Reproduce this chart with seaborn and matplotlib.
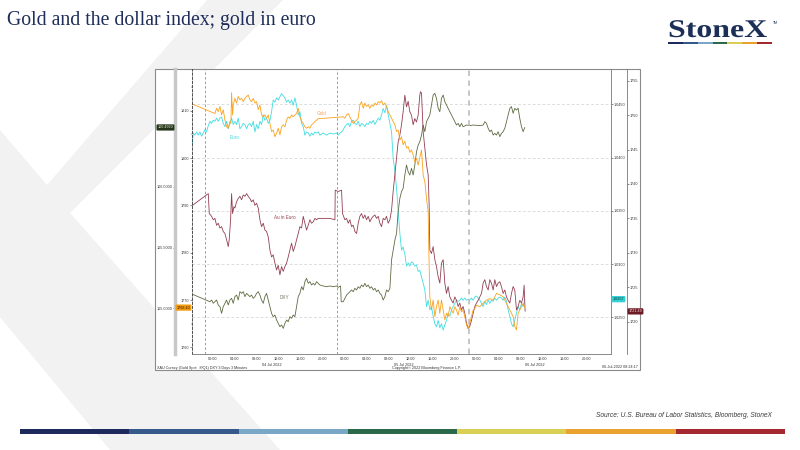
import matplotlib
matplotlib.use("Agg")
import matplotlib.pyplot as plt
import matplotlib.transforms as mtransforms
from matplotlib.patches import Polygon, Rectangle, PathPatch
from matplotlib.textpath import TextPath
from matplotlib.font_manager import FontProperties
from matplotlib.ticker import FixedLocator, MultipleLocator, FormatStrFormatter
import seaborn as sns

# hours counted from 04-Jul-2022 00:00
gold_hours = [-3.75, 0.37, 0.67, 0.97, 1.28, 1.58, 1.88, 2.19, 2.49, 2.79, 3.10, 3.28, 3.40, 3.58, 3.70,
              4.00, 4.30, 4.61, 4.91, 5.22, 5.52, 5.82, 6.13, 6.43, 6.73, 7.03, 7.34, 7.64, 7.94, 8.25,
              8.55, 8.85, 9.16, 9.46, 9.76, 10.07, 10.37, 10.67, 10.97, 11.28, 11.58, 11.88, 12.19, 12.49,
              12.79, 13.10, 13.40, 13.70, 14.00, 14.31, 14.61, 14.91, 15.22, 15.52, 15.82, 16.13, 16.43,
              16.73, 17.03, 17.34, 17.64, 17.94, 18.25, 18.55, 18.85, 19.16, 23.70, 24.00, 24.30, 24.61,
              24.91, 25.22, 25.52, 25.82, 26.13, 26.43, 26.73, 27.03, 27.34, 27.64, 27.94, 28.25, 28.55,
              28.85, 29.16, 29.46, 29.76, 30.07, 30.37, 30.67, 30.97, 31.28, 31.58, 31.88, 32.19, 33.09,
              33.39, 33.69, 34.00, 34.30, 34.60, 34.91, 35.21, 35.51, 35.81, 36.12, 36.42, 36.72, 37.03,
              37.33, 37.63, 37.94, 38.24, 38.54, 38.85, 39.15, 39.27, 39.45, 39.75, 40.06, 40.36, 40.66,
              40.97, 41.27, 41.57, 41.88, 42.18, 42.48, 42.78, 43.09, 43.39, 43.69, 44.00, 44.30, 44.60,
              44.90, 45.21, 45.51, 45.81, 46.12, 46.42, 46.72, 47.03, 47.33, 47.63, 47.94, 48.54, 49.15,
              49.75, 50.36, 50.97, 51.57, 52.18, 52.78, 53.39, 54.00, 54.60, 54.90, 55.21, 55.51, 55.81,
              56.12, 56.42, 56.72]
gold_usd = [1811.4, 1809.4, 1810.5, 1809.8, 1810.9, 1809.1, 1810.2, 1808.0, 1806.6, 1806.3, 1807.7, 1807.3,
            1813.8, 1809.1, 1811.2, 1812.6, 1811.6, 1813.0, 1812.3, 1812.6, 1811.9, 1812.6, 1813.0, 1813.3,
            1812.3, 1811.9, 1812.6, 1811.6, 1811.9, 1810.2, 1811.2, 1809.1, 1808.7, 1809.1, 1808.4, 1809.1,
            1807.3, 1805.6, 1805.9, 1804.5, 1805.2, 1806.3, 1804.9, 1806.6, 1807.0, 1806.6, 1808.0, 1808.7,
            1808.4, 1809.1, 1808.7, 1809.1, 1809.4, 1810.5, 1808.7, 1807.7, 1807.3, 1806.6, 1806.3, 1806.6,
            1806.3, 1807.0, 1807.3, 1807.7, 1808.0, 1808.3, 1808.7, 1808.4, 1809.1, 1809.4, 1808.7, 1808.0,
            1807.3, 1807.7, 1808.0, 1808.4, 1811.2, 1811.9, 1810.5, 1811.6, 1810.9, 1811.2, 1810.5, 1811.2,
            1810.9, 1811.6, 1811.2, 1811.9, 1811.6, 1812.1, 1811.2, 1811.6, 1810.9, 1809.8, 1809.1, 1807.0,
            1805.6, 1805.9, 1803.8, 1804.5, 1802.8, 1803.5, 1802.1, 1802.4, 1801.2, 1801.7, 1800.6, 1799.2,
            1799.9, 1798.5, 1800.1, 1801.7, 1796.4, 1795.0, 1791.5, 1788.7, 1780.6, 1770.7, 1767.9, 1770.0,
            1766.5, 1768.6, 1770.0, 1767.2, 1770.0, 1767.9, 1765.8, 1767.2, 1766.5, 1768.6, 1767.9, 1767.2,
            1768.6, 1767.9, 1766.8, 1768.6, 1767.5, 1767.9, 1766.5, 1764.7, 1764.0, 1765.1, 1766.5, 1767.9,
            1768.2, 1768.9, 1768.6, 1769.3, 1770.0, 1770.3, 1770.0, 1771.4, 1771.1, 1770.7, 1769.3, 1767.9,
            1766.5, 1764.4, 1763.7, 1767.2, 1767.9, 1768.6, 1769.3, 1768.4]

eur_hours = [-3.75, -3.57, -3.27, -2.97, -2.66, -2.36, -2.06, -1.75, -1.45, -1.15, -0.84, -0.54, -0.24,
             0.07, 0.37, 0.67, 0.97, 1.28, 1.58, 1.88, 2.19, 2.49, 2.79, 3.10, 3.40, 3.70, 4.00, 4.30,
             4.61, 4.91, 5.22, 5.52, 5.82, 6.13, 6.43, 6.73, 7.03, 7.34, 7.64, 7.94, 8.25, 8.55, 8.85,
             9.16, 9.46, 9.76, 10.07, 10.37, 10.67, 10.97, 11.28, 11.58, 11.88, 12.19, 12.49, 12.79,
             13.10, 13.40, 13.70, 14.00, 14.31, 14.61, 14.91, 15.22, 15.52, 15.82, 16.13, 16.43, 16.73,
             17.03, 17.34, 17.64, 17.94, 18.25, 18.55, 18.85, 19.16, 19.46, 20.07, 20.67, 21.28, 21.88,
             22.49, 22.79, 23.10, 23.40, 23.70, 24.00, 24.31, 24.61, 24.91, 25.22, 25.52, 25.82, 26.13,
             26.43, 26.73, 27.03, 27.34, 27.64, 27.94, 28.25, 28.55, 28.85, 29.16, 29.46, 29.76, 30.07,
             30.37, 30.67, 30.97, 31.28, 31.58, 31.88, 32.19, 32.49, 32.79, 33.10, 33.40, 33.69, 33.88,
             34.00, 34.30, 34.60, 34.91, 35.21, 35.51, 35.81, 36.12, 36.42, 36.72, 37.03, 37.33, 37.63,
             37.94, 38.24, 38.54, 38.85, 39.15, 39.45, 39.75, 40.06, 40.36, 40.66, 40.97, 41.27, 41.57,
             41.88, 42.18, 42.48, 42.78, 43.09, 43.39, 43.69, 44.00, 44.30, 44.60, 44.90, 45.21, 45.51,
             45.81, 46.12, 46.42, 46.72, 47.03, 47.33, 47.63, 47.94, 48.24, 48.54, 48.85, 49.15, 49.45,
             49.75, 50.06, 50.36, 50.66, 50.97, 51.27, 51.57, 51.87, 52.18, 52.48, 52.78, 53.09, 53.39,
             53.69, 54.00, 54.30, 54.60, 54.90, 55.21, 55.51, 55.81, 56.12, 56.42, 56.72]
eurusd = [1.0413, 1.0423, 1.0421, 1.0424, 1.0421, 1.0424, 1.0420, 1.0423, 1.0426, 1.0424, 1.0430, 1.0434,
          1.0432, 1.0435, 1.0434, 1.0437, 1.0434, 1.0437, 1.0438, 1.0432, 1.0429, 1.0434, 1.0427, 1.0432,
          1.0437, 1.0431, 1.0434, 1.0431, 1.0437, 1.0427, 1.0429, 1.0432, 1.0431, 1.0427, 1.0431, 1.0432,
          1.0429, 1.0434, 1.0424, 1.0431, 1.0427, 1.0434, 1.0431, 1.0440, 1.0435, 1.0437, 1.0432, 1.0435,
          1.0443, 1.0454, 1.0452, 1.0456, 1.0454, 1.0457, 1.0460, 1.0458, 1.0456, 1.0452, 1.0454, 1.0451,
          1.0454, 1.0449, 1.0456, 1.0449, 1.0440, 1.0443, 1.0432, 1.0429, 1.0421, 1.0424, 1.0423, 1.0420,
          1.0423, 1.0421, 1.0424, 1.0423, 1.0424, 1.0421, 1.0423, 1.0421, 1.0423, 1.0422, 1.0423, 1.0421,
          1.0423, 1.0424, 1.0426, 1.0429, 1.0431, 1.0432, 1.0429, 1.0434, 1.0435, 1.0432, 1.0431, 1.0434,
          1.0429, 1.0432, 1.0431, 1.0429, 1.0432, 1.0431, 1.0434, 1.0432, 1.0435, 1.0431, 1.0434, 1.0437,
          1.0435, 1.0440, 1.0446, 1.0442, 1.0449, 1.0440, 1.0432, 1.0424, 1.0399, 1.0387, 1.0371, 1.0350,
          1.0335, 1.0329, 1.0313, 1.0316, 1.0309, 1.0298, 1.0301, 1.0298, 1.0302, 1.0301, 1.0298, 1.0299,
          1.0293, 1.0294, 1.0288, 1.0282, 1.0276, 1.0260, 1.0266, 1.0257, 1.0260, 1.0251, 1.0244, 1.0241,
          1.0247, 1.0240, 1.0244, 1.0238, 1.0243, 1.0247, 1.0254, 1.0251, 1.0257, 1.0260, 1.0263, 1.0266,
          1.0265, 1.0266, 1.0268, 1.0266, 1.0268, 1.0266, 1.0267, 1.0266, 1.0268, 1.0266, 1.0269, 1.0270,
          1.0268, 1.0266, 1.0263, 1.0260, 1.0265, 1.0262, 1.0266, 1.0263, 1.0266, 1.0265, 1.0268, 1.0266,
          1.0268, 1.0269, 1.0268, 1.0266, 1.0269, 1.0265, 1.0257, 1.0251, 1.0244, 1.0241, 1.0247, 1.0254,
          1.0260, 1.0257, 1.0263, 1.0260, 1.0267]

gie_hours = [-3.69, -0.84, -0.66, -0.24, 0.07, 0.37, 0.67, 0.97, 1.28, 1.58, 1.88, 2.19, 2.49, 2.79, 2.97,
             3.22, 3.40, 3.58, 3.82, 4.00, 4.30, 4.61, 4.91, 5.22, 5.52, 5.82, 6.13, 6.43, 6.73, 7.03,
             7.34, 7.64, 7.94, 8.25, 8.55, 8.85, 9.16, 9.46, 9.76, 10.07, 10.37, 10.67, 10.97, 11.28,
             11.58, 11.88, 12.19, 12.49, 12.79, 13.10, 13.40, 13.70, 14.00, 14.31, 14.61, 14.91, 15.22,
             15.52, 15.82, 16.13, 16.43, 16.73, 17.03, 17.34, 17.64, 17.94, 18.25, 18.55, 18.85, 19.16,
             20.07, 21.28, 22.19, 22.25, 22.79, 23.40, 23.58, 24.00, 24.31, 24.61, 24.91, 25.22, 25.52,
             25.82, 26.13, 26.43, 26.73, 27.03, 27.34, 27.64, 27.94, 28.25, 28.55, 28.85, 29.16, 29.46,
             29.76, 30.07, 30.37, 30.67, 30.97, 31.28, 31.58, 31.88, 32.19, 32.49, 32.78, 33.09, 33.39,
             33.69, 34.00, 34.30, 34.60, 34.91, 35.21, 35.51, 35.81, 36.12, 36.42, 36.72, 37.03, 37.33,
             37.63, 37.75, 37.94, 38.12, 38.24, 38.54, 38.85, 39.15, 39.33, 39.45, 39.75, 40.06, 40.36,
             40.66, 40.97, 41.27, 41.57, 41.88, 42.18, 42.48, 42.78, 43.09, 43.39, 43.69, 44.00, 44.30,
             44.60, 44.90, 45.21, 45.51, 45.81, 46.12, 46.42, 46.72, 47.03, 47.33, 47.63, 47.94, 48.24,
             48.54, 48.85, 49.15, 49.45, 49.75, 50.06, 50.36, 50.66, 50.97, 51.27, 51.57, 51.87, 52.18,
             52.48, 52.78, 53.09, 53.39, 53.69, 54.00, 54.30, 54.60, 54.90, 55.21, 55.51, 55.81, 56.12,
             56.42, 56.60, 56.78]
gold_eur = [1736.9, 1738.6, 1735.7, 1735.3, 1734.8, 1735.0, 1734.0, 1734.3, 1733.6, 1733.8, 1733.1, 1732.8,
            1731.9, 1730.9, 1731.9, 1734.8, 1738.6, 1735.7, 1736.7, 1736.5, 1737.4, 1737.9, 1738.2, 1737.7,
            1738.4, 1738.2, 1738.6, 1738.2, 1737.9, 1737.4, 1737.7, 1736.9, 1737.2, 1736.5, 1734.8, 1733.8,
            1734.3, 1733.3, 1733.1, 1732.3, 1730.4, 1729.4, 1729.7, 1728.5, 1727.5, 1728.2, 1726.8, 1728.0,
            1727.3, 1728.0, 1728.5, 1729.4, 1730.4, 1731.4, 1730.2, 1730.9, 1731.9, 1732.8, 1733.8, 1733.6,
            1735.3, 1734.3, 1733.3, 1734.0, 1734.8, 1734.3, 1734.5, 1735.0, 1734.8, 1735.0, 1735.0, 1735.0,
            1734.8, 1739.1, 1738.9, 1739.1, 1735.7, 1734.8, 1735.0, 1734.3, 1734.8, 1733.8, 1734.0, 1733.1,
            1732.8, 1734.3, 1735.3, 1735.7, 1735.0, 1735.5, 1734.8, 1735.3, 1734.5, 1735.0, 1735.3, 1735.5,
            1735.0, 1735.3, 1734.3, 1733.8, 1735.0, 1734.8, 1735.3, 1734.3, 1734.8, 1736.2, 1738.9, 1741.3,
            1743.7, 1746.1, 1747.1, 1748.6, 1750.5, 1752.9, 1751.2, 1752.0, 1750.5, 1750.0, 1748.6, 1749.5,
            1749.0, 1750.0, 1752.9, 1753.4, 1753.2, 1750.0, 1747.6, 1745.2, 1742.8, 1741.3, 1736.9, 1730.4,
            1729.9, 1730.9, 1729.0, 1728.0, 1726.5, 1725.6, 1728.5, 1729.0, 1725.6, 1724.1, 1725.1, 1723.6,
            1723.1, 1722.7, 1723.6, 1723.1, 1722.2, 1722.7, 1721.7, 1722.2, 1721.2, 1719.8, 1719.0, 1719.3,
            1720.2, 1721.2, 1722.2, 1722.7, 1723.1, 1723.6, 1724.1, 1725.6, 1726.1, 1725.1, 1724.6, 1726.1,
            1725.6, 1724.6, 1726.1, 1725.1, 1725.6, 1725.8, 1725.1, 1724.1, 1724.6, 1723.6, 1723.1, 1722.7,
            1724.1, 1725.1, 1724.6, 1721.7, 1722.2, 1723.1, 1722.7, 1723.6, 1725.3, 1721.5]

dxy_hours = [-3.69, -0.54, -0.24, 0.07, 0.37, 0.67, 0.97, 1.28, 1.58, 1.88, 2.19, 2.49, 2.79, 3.10, 3.40,
             3.70, 4.00, 4.30, 4.61, 4.91, 5.22, 5.52, 5.82, 6.13, 6.43, 6.73, 7.03, 7.34, 7.64, 7.94,
             8.25, 8.55, 8.85, 9.16, 9.46, 9.76, 10.07, 10.37, 10.67, 10.97, 11.28, 11.58, 11.88, 12.19,
             12.49, 12.79, 13.10, 13.40, 13.70, 14.00, 14.31, 14.61, 14.91, 15.22, 15.52, 15.82, 16.13,
             16.43, 16.73, 17.03, 17.34, 17.64, 17.94, 18.25, 18.55, 18.85, 19.16, 19.46, 20.07, 20.67,
             21.28, 21.88, 22.49, 22.79, 23.22, 23.34, 23.70, 24.00, 24.31, 24.61, 24.91, 25.22, 25.52,
             25.82, 26.13, 26.43, 26.73, 27.03, 27.34, 27.64, 27.94, 28.25, 28.55, 28.85, 29.16, 29.46,
             29.76, 30.07, 30.37, 30.67, 30.97, 31.28, 31.58, 31.88, 32.19, 32.49, 32.79, 33.10, 33.40,
             33.69, 34.00, 34.30, 34.60, 34.91, 35.21, 35.51, 35.81, 36.12, 36.42, 36.72, 37.03, 37.33,
             37.63, 37.94, 38.24, 38.54, 38.85, 39.15, 39.45, 39.75, 40.06, 40.36, 40.66, 40.97, 41.27,
             41.57, 41.88, 42.18, 42.48, 42.78, 43.09, 43.39, 43.69, 44.00, 44.30, 44.60, 44.90, 45.21,
             45.51, 46.12, 46.72, 47.33, 48.54, 49.15, 49.45, 49.75, 50.06, 50.36, 50.66, 50.97, 51.27,
             51.57, 51.87, 52.18, 52.48, 52.78, 53.09, 53.39, 53.69, 54.00, 54.30, 54.60, 54.90, 55.21,
             55.51, 55.81, 56.12, 56.42, 56.72]
dxy = [105.113, 105.052, 105.066, 105.039, 105.052, 105.066, 105.025, 105.011, 104.956, 105.011, 105.039,
       105.066, 105.025, 105.066, 105.080, 105.039, 105.094, 105.107, 105.066, 105.135, 105.121, 105.135,
       105.094, 105.121, 105.107, 105.094, 105.107, 105.080, 105.094, 105.121, 105.135, 105.107, 105.066,
       105.039, 105.094, 105.121, 105.066, 105.011, 104.956, 104.928, 104.942, 104.901, 104.873, 104.846,
       104.860, 104.832, 104.873, 104.901, 104.887, 104.928, 104.915, 104.942, 104.928, 105.011, 105.094,
       105.121, 105.176, 105.149, 105.218, 105.245, 105.204, 105.218, 105.190, 105.204, 105.190, 105.218,
       105.204, 105.190, 105.182, 105.176, 105.182, 105.176, 105.182, 105.171, 105.182, 105.052, 105.052,
       105.080, 105.107, 105.121, 105.135, 105.149, 105.135, 105.163, 105.149, 105.176, 105.163, 105.190,
       105.176, 105.204, 105.176, 105.190, 105.163, 105.176, 105.149, 105.163, 105.135, 105.149, 105.121,
       105.107, 105.066, 105.094, 105.149, 105.135, 105.163, 105.397, 105.479, 105.562, 105.617, 105.796,
       105.906, 105.961, 105.989, 106.099, 106.182, 106.126, 106.099, 106.154, 106.099, 106.182, 106.292,
       106.347, 106.374, 106.429, 106.512, 106.457, 106.540, 106.567, 106.595, 106.677, 106.760, 106.774,
       106.733, 106.650, 106.622, 106.733, 106.760, 106.705, 106.677, 106.650, 106.622, 106.595, 106.567,
       106.540, 106.512, 106.526, 106.498, 106.526, 106.498, 106.512, 106.507, 106.512, 106.507, 106.512,
       106.540, 106.526, 106.485, 106.457, 106.471, 106.429, 106.443, 106.429, 106.457, 106.416, 106.443,
       106.457, 106.485, 106.540, 106.595, 106.650, 106.664, 106.609, 106.650, 106.636, 106.650, 106.567,
       106.498, 106.457, 106.492]

# session breaks and time axis labels
day_breaks = [-1.5, 22.5, 46.6]
tick_hours = list(range(0, 72, 4))
tick_labels = ["00:00", "04:00", "08:00", "12:00", "16:00", "20:00"] * 3
day_label_hours = [10.8, 34.7, 58.6]
day_labels = ["04 Jul 2022", "05 Jul 2022", "06 Jul 2022"]

# last-value tags
last_dxy = "106.4920"
last_gold = "1768.40"
last_eur = "1.0267"
last_gie = "1721.49"

GOLD_C = "#fba11a"
EUR_C = "#3fdde2"
GIE_C = "#923f52"
DXY_C = "#5e6b42"
TXT = "#333333"
SMALL = 2.7
LW = 0.6

sns.set_style("white")
plt.rcParams["font.family"] = ["Liberation Sans", "DejaVu Sans"]

fig = plt.figure(figsize=(8, 4.5), dpi=100)


def px_rect(x0, y0, x1, y1):
    return [x0 / 800, 1 - y1 / 450, (x1 - x0) / 800, (y1 - y0) / 450]


# slide background
bg = fig.add_axes([0, 0, 1, 1])
bg.set_zorder(0)
bg.set_xlim(0, 800)
bg.set_ylim(450, 0)
bg.axis("off")
bg.add_patch(Polygon([(207, 0), (283, 0), (70, 213), (280, 450), (110, 450), (0, 317), (0, 130), (47, 185)],
                     closed=True, fc="#f2f2f2", ec="none"))
bg.add_patch(Rectangle((155, 69), 485, 301, fc="white", ec="#8a8a8a", lw=0.8))
bg.text(7, 25, "Gold and the dollar index; gold in euro", family="Liberation Serif", fontsize=14.2,
        color="#1f2d5a", va="baseline")

# logo, stretched a little to match the wide wordmark
logo = TextPath((0, 0), "StoneX", size=25.5, prop=FontProperties(family="Liberation Serif", weight="bold"))
logo_tr = mtransforms.Affine2D().scale(1.25, -1.0).translate(668, 37) + bg.transData
bg.add_patch(PathPatch(logo, fc="#1b2f57", ec="none", transform=logo_tr))
bg.text(773, 24, "TM", fontsize=2.5, color="#1b2f57")
band_colors = ["#1f2a5c", "#35598a", "#7aa7c7", "#2a6a4a", "#d9cf55", "#e9a12f", "#a3282f"]
for i, c in enumerate(band_colors):
    w = (772 - 668) / 7
    bg.add_patch(Rectangle((668 + i * w, 41.5), w, 2, fc=c, ec="none"))
    w = (785 - 20) / 7
    bg.add_patch(Rectangle((20 + i * w, 429), w, 5, fc=c, ec="none"))
bg.text(772, 417, "Source: U.S. Bureau of Labor Statistics, Bloomberg, StoneX", ha="right", va="baseline",
        style="italic", fontsize=4.8, color="#3a3a3a")
bg.text(157, 367.5, "XAU Curncy (Gold Spot   8/Q1) DXY 3 Days 3 Minutes", fontsize=SMALL, color=TXT, va="center")
bg.text(392, 367.5, "Copyright\u00a9 2022 Bloomberg Finance L.P.", fontsize=SMALL, color=TXT, va="center")
bg.text(638, 367.5, "06-Jul-2022 08:24:17", fontsize=SMALL, color=TXT, va="center", ha="right")

# chart axes: gold (left), EURUSD (right), gold in euro (right, offset), DXY (left, offset)
ax = fig.add_axes(px_rect(192, 69, 611, 354))
ax_eur = ax.twinx()
ax_gie = ax.twinx()
ax_dxy = ax.twinx()
for a, z in [(ax_eur, 1), (ax_dxy, 2), (ax_gie, 3), (ax, 4)]:
    a.set_zorder(z)
    a.patch.set_visible(False)
    for s in a.spines.values():
        s.set_visible(False)

sns.lineplot(x=eur_hours, y=eurusd, ax=ax_eur, color=EUR_C, linewidth=LW)
sns.lineplot(x=dxy_hours, y=dxy, ax=ax_dxy, color=DXY_C, linewidth=LW)
sns.lineplot(x=gie_hours, y=gold_eur, ax=ax_gie, color=GIE_C, linewidth=LW)
sns.lineplot(x=gold_hours, y=gold_usd, ax=ax, color=GOLD_C, linewidth=LW)

ax.set_xlim(-3.8, 72.4)
ax.set_ylim(1758.6, 1818.8)
ax_eur.set_ylim(1.02155, 1.04831)
ax_gie.set_ylim(1715.3, 1756.7)
ax_dxy.set_ylim(104.62, 106.975)
for a in (ax, ax_eur, ax_gie, ax_dxy):
    a.set_ylabel("")
    a.set_xlabel("")

# x axis
ax.xaxis.set_major_locator(FixedLocator(tick_hours))
ax.set_xticklabels(tick_labels)
ax.xaxis.set_minor_locator(MultipleLocator(2))
ax.tick_params(axis="x", which="major", length=1.5, width=0.4, pad=0.6, labelsize=SMALL, colors=TXT)
ax.tick_params(axis="x", which="minor", length=1, width=0.3, colors=TXT)
ax.spines["bottom"].set_visible(True)
ax.spines["bottom"].set_color("#777777")
ax.spines["bottom"].set_linewidth(0.6)
blend = mtransforms.blended_transform_factory(ax.transData, ax.transAxes)
for h, lab in zip(day_label_hours, day_labels):
    ax.text(h, -0.03, lab, transform=blend, ha="center", va="top", fontsize=SMALL, color=TXT)

# gold axis on the left spine
ax.spines["left"].set_visible(True)
ax.spines["left"].set_linestyle((0, (3, 2)))
ax.spines["left"].set_color("#333333")
ax.spines["left"].set_linewidth(0.6)
ax.yaxis.set_major_locator(MultipleLocator(10))
ax.yaxis.set_minor_locator(MultipleLocator(5))
ax.yaxis.set_major_formatter(FormatStrFormatter("%d"))
ax.tick_params(axis="y", which="major", length=1.5, width=0.4, pad=0.6, labelsize=SMALL, colors=TXT)
ax.tick_params(axis="y", which="minor", length=1, width=0.3, colors=TXT)

# EURUSD axis
ax_eur.spines["right"].set_visible(True)
ax_eur.spines["right"].set_color("#777777")
ax_eur.spines["right"].set_linewidth(0.6)
ax_eur.yaxis.set_major_locator(MultipleLocator(0.005))
ax_eur.yaxis.set_minor_locator(MultipleLocator(0.0025))
ax_eur.yaxis.set_major_formatter(FormatStrFormatter("%.4f"))
ax_eur.tick_params(axis="y", which="major", length=1.5, width=0.4, pad=0.6, labelsize=SMALL, colors=TXT)
ax_eur.tick_params(axis="y", which="minor", length=1, width=0.3, colors=TXT)
ax_eur.grid(axis="y", which="major", color="#cfcfcf", linestyle=(0, (4, 3)), linewidth=0.5)

# gold in euro axis
ax_gie.spines["right"].set_visible(True)
ax_gie.spines["right"].set_position(("axes", 1 + 16 / 419))
ax_gie.spines["right"].set_color("#777777")
ax_gie.spines["right"].set_linewidth(0.6)
ax_gie.yaxis.set_major_locator(MultipleLocator(5))
ax_gie.yaxis.set_major_formatter(FormatStrFormatter("%d"))
ax_gie.tick_params(axis="y", which="major", length=1.5, width=0.4, pad=0.6, labelsize=SMALL, colors=TXT)

# DXY axis
ax_dxy.yaxis.tick_left()
ax_dxy.spines["left"].set_visible(True)
ax_dxy.spines["left"].set_position(("axes", -17 / 419))
ax_dxy.spines["left"].set_color("#c8c8c8")
ax_dxy.spines["left"].set_linewidth(2.5)
ax_dxy.yaxis.set_major_locator(FixedLocator([105.0, 105.5, 106.0]))
ax_dxy.yaxis.set_minor_locator(MultipleLocator(0.25))
ax_dxy.yaxis.set_major_formatter(FormatStrFormatter("%.4f"))
ax_dxy.tick_params(axis="y", which="major", length=1.5, width=0.4, pad=0.6, labelsize=SMALL, colors=TXT)
ax_dxy.tick_params(axis="y", which="minor", length=1, width=0.3, colors=TXT)

# session separators
for i, h in enumerate(day_breaks):
    last = i == len(day_breaks) - 1
    ax.axvline(h, color="#c2c2c2" if last else "#8c8c8c", linewidth=1.3 if last else 0.6,
               linestyle=(0, (3, 2.5)), zorder=0.5)

# series names
ax.text(18.9, 1809.5, "Gold", color="#f5a55a", fontsize=3.3, va="center")
ax_eur.text(3.1, 1.04184, "Euro", color="#48d8dc", fontsize=3.3, va="center")
ax_gie.text(13.1, 1735.2, "Au in Euro", color="#9a4050", fontsize=3.3, va="center", ha="center")
ax_dxy.text(13.1, 105.083, "DXY", color="#6d7558", fontsize=3.3, va="center", ha="center")


# last value tags
def tag(a, xa, value, label, fc, tc, ha):
    tr = mtransforms.blended_transform_factory(a.transAxes, a.transData)
    a.text(xa, value, label, transform=tr, ha=ha, va="center", fontsize=SMALL, color=tc, clip_on=False,
           bbox=dict(boxstyle="round,pad=0.3,rounding_size=0.3", fc=fc, ec="none"))


tag(ax_dxy, -17 / 419 - 0.004, float(last_dxy), last_dxy, "#26361b", "#e6ecd0", "right")
tag(ax, -0.004, float(last_gold), last_gold, "#f39c12", "#3a2000", "right")
tag(ax_eur, 1.004, float(last_eur), last_eur, "#35d0d3", "#003838", "left")
tag(ax_gie, 1 + 16 / 419 + 0.004, float(last_gie), last_gie, "#6e1a24", "#f2e0e0", "left")

fig.savefig("out.png", dpi=100)
